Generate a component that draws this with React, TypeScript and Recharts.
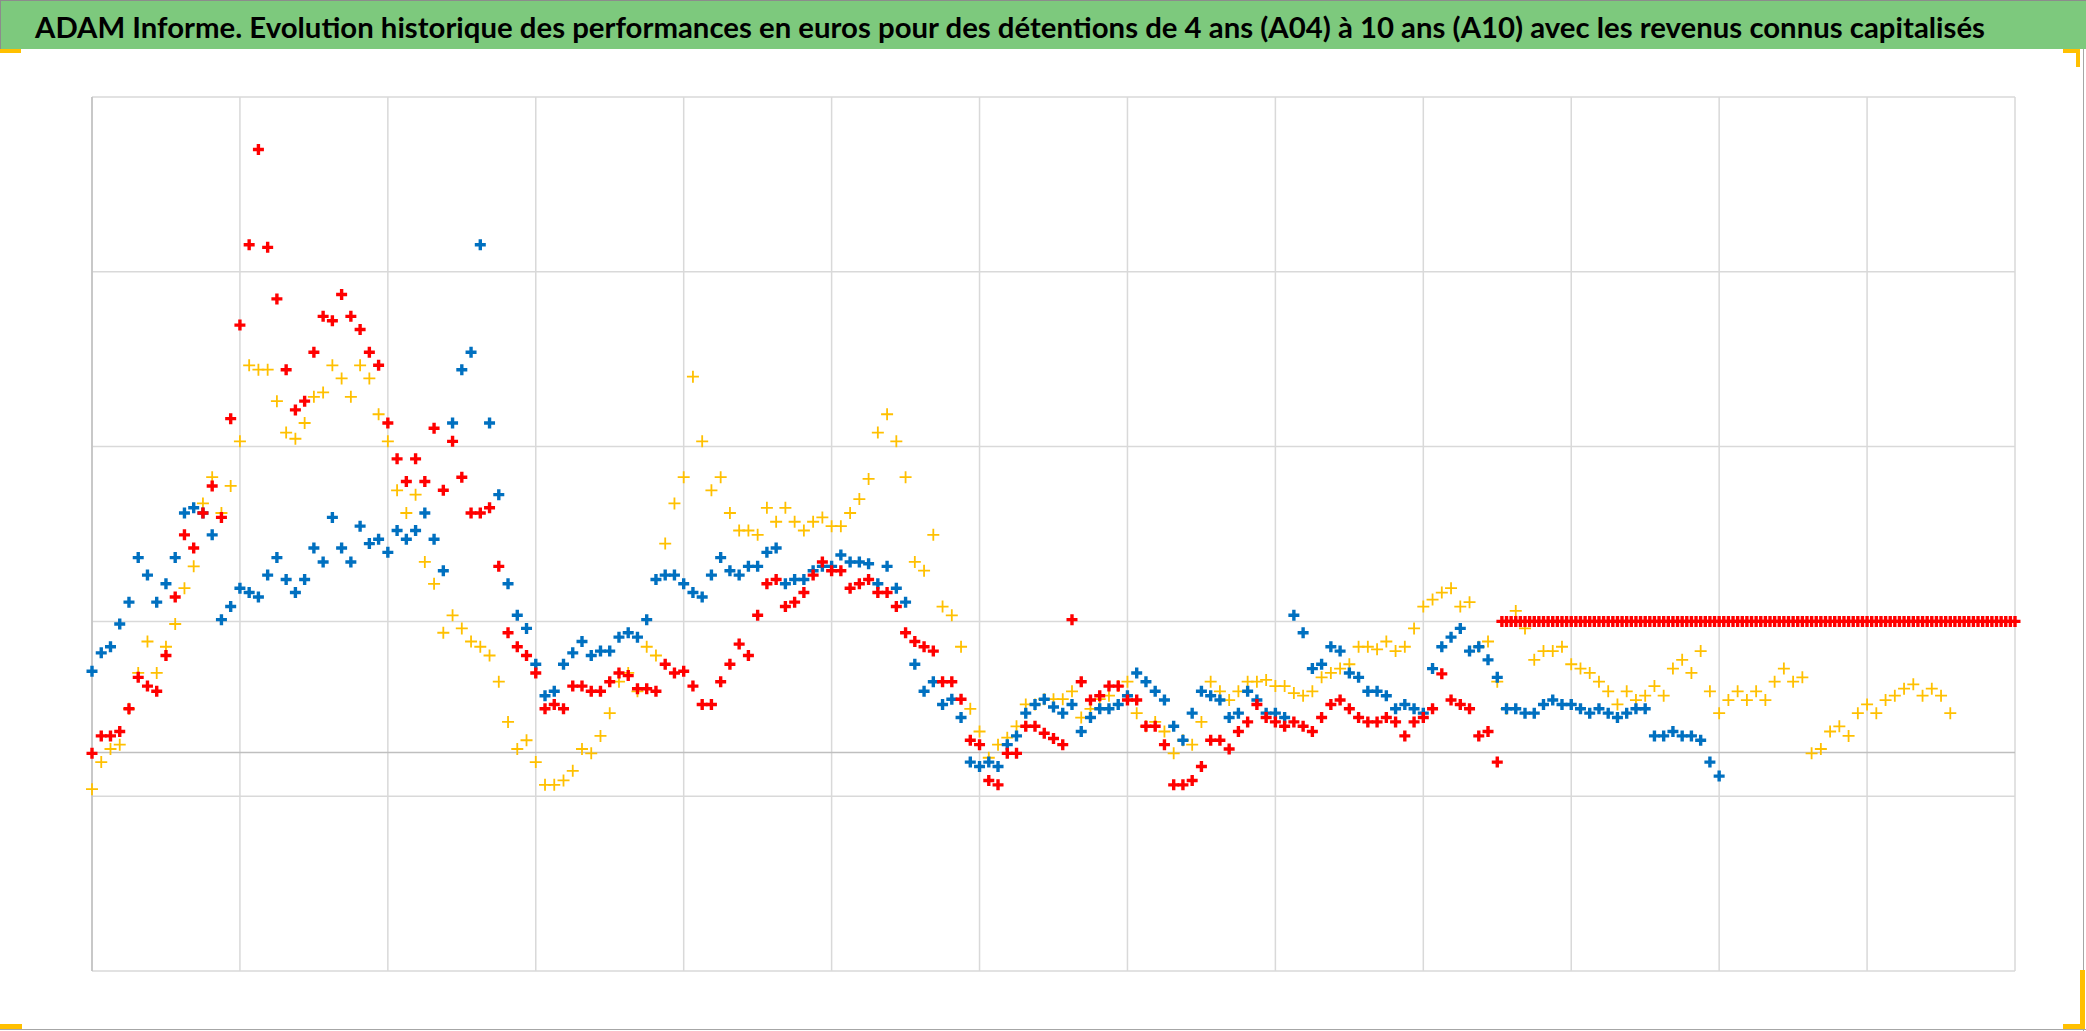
import { ScatterChart, Scatter, XAxis, YAxis, CartesianGrid, ReferenceLine } from 'recharts';

const TITLE =
  'ADAM Informe. Evolution historique des performances en euros pour des détentions de 4 ans (A04) à 10 ans (A10) avec les revenus connus capitalisés';

const xTicks = [0, 16, 32, 48, 64, 80, 96, 112, 128, 144, 160, 176, 192, 208];
const yTicks = [-25, -5, 15, 35, 55, 75];

// one value per step on the x axis
const serieBleue = [
  9.3, 11.4, 12.1, 14.7, 17.2, 22.3, 20.3, 17.2, 19.3, 22.3,
  27.4, 28.0, 27.4, 24.9, 15.2, 16.7, 18.8, 18.3, 17.8, 20.3,
  22.3, 19.8, 18.3, 19.8, 23.4, 21.8, 26.9, 23.4, 21.8, 25.9,
  23.9, 24.4, 22.9, 25.4, 24.4, 25.4, 27.4, 24.4, 20.8, 37.7,
  43.8, 45.8, 58.1, 37.7, 29.5, 19.3, 15.7, 14.2, 10.1, 6.5,
  7.0, 10.1, 11.4, 12.7, 11.1, 11.6, 11.6, 13.2, 13.7, 13.2,
  15.2, 19.8, 20.3, 20.3, 19.3, 18.3, 17.8, 20.3, 22.3, 20.8,
  20.3, 21.3, 21.3, 22.9, 23.4, 19.3, 19.8, 19.8, 20.8, 21.3,
  21.3, 22.6, 21.8, 21.8, 21.6, 19.3, 21.3, 18.8, 17.2, 10.1,
  7.0, 8.1, 5.5, 6.1, 4.0, -1.1, -1.6, -1.1, -1.6, 0.9,
  1.9, 4.5, 5.5, 6.1, 5.2, 4.5, 5.5, 2.4, 4.0, 5.0,
  5.0, 5.5, 6.5, 9.1, 8.1, 7.0, 6.0, 3.0, 1.4, 4.5,
  7.0, 6.5, 6.0, 4.0, 4.5, 7.0, 6.0, 4.5, 4.5, 4.0,
  15.7, 13.7, 9.6, 10.1, 12.1, 11.6, 9.1, 8.6, 7.0, 7.0,
  6.5, 5.0, 5.5, 5.0, 4.5, 9.6, 12.1, 13.2, 14.2, 11.6,
  12.1, 10.6, 8.6, 5.0, 5.0, 4.5, 4.5, 5.5, 6.0, 5.5,
  5.5, 5.0, 4.5, 5.0, 4.5, 4.0, 4.5, 5.0, 5.0, 1.9,
  1.9, 2.4, 1.9, 1.9, 1.4, -1.1, -2.7,
];

const serieRouge = [
  -0.1, 1.9, 1.9, 2.4, 5.0, 8.6, 7.6, 7.0, 11.1, 17.8,
  24.9, 23.4, 27.4, 30.5, 26.9, 38.2, 48.9, 58.1, 69.0, 57.8,
  51.9, 43.8, 39.2, 40.2, 45.8, 49.9, 49.4, 52.4, 49.9, 48.4,
  45.8, 44.3, 37.7, 33.6, 31.0, 33.6, 31.0, 37.1, 30.0, 35.6,
  31.5, 27.4, 27.4, 28.0, 21.3, 13.7, 12.1, 11.1, 9.1, 5.0,
  5.5, 5.0, 7.6, 7.6, 7.0, 7.0, 8.1, 9.1, 8.8, 7.3,
  7.3, 7.0, 10.1, 9.1, 9.3, 7.6, 5.5, 5.5, 8.1, 10.1,
  12.4, 11.1, 15.7, 19.3, 19.8, 16.7, 17.2, 18.3, 20.3, 21.8,
  20.8, 20.8, 18.8, 19.3, 19.8, 18.3, 18.3, 16.7, 13.7, 12.7,
  12.1, 11.6, 8.1, 8.1, 6.1, 1.4, 0.9, -3.2, -3.7, -0.1,
  -0.1, 3.0, 3.0, 2.2, 1.6, 0.9, 15.2, 8.1, 6.0, 6.5,
  7.6, 7.6, 6.0, 6.0, 3.0, 3.0, 0.9, -3.7, -3.7, -3.2,
  -1.6, 1.4, 1.4, 0.4, 2.4, 3.5, 5.5, 4.0, 3.5, 3.0,
  3.5, 3.0, 2.4, 4.0, 5.5, 6.0, 5.0, 4.0, 3.5, 3.5,
  4.0, 3.5, 1.9, 3.5, 4.0, 5.0, 9.0, 6.0, 5.5, 5.0,
  1.9, 2.4, -1.1,
];

// red values after x = 152.5, every half step: flat
const serieRougeFin = [
  15, 15, 15, 15, 15, 15, 15, 15, 15, 15, 15, 15, 15, 15, 15, 15,
  15, 15, 15, 15, 15, 15, 15, 15, 15, 15, 15, 15, 15, 15, 15, 15,
  15, 15, 15, 15, 15, 15, 15, 15, 15, 15, 15, 15, 15, 15, 15, 15,
  15, 15, 15, 15, 15, 15, 15, 15, 15, 15, 15, 15, 15, 15, 15, 15,
  15, 15, 15, 15, 15, 15, 15, 15, 15, 15, 15, 15, 15, 15, 15, 15,
  15, 15, 15, 15, 15, 15, 15, 15, 15, 15, 15, 15, 15, 15, 15, 15,
  15, 15, 15, 15, 15, 15, 15, 15, 15, 15, 15, 15, 15, 15, 15, 15,
];

const serieJaune = [
  -4.2, -1.1, 0.4, 0.9, 5.0, 9.1, 12.7, 9.1, 12.1, 14.7,
  18.8, 21.3, 28.5, 31.5, 27.4, 30.5, 35.6, 44.3, 43.8, 43.8,
  40.2, 36.6, 35.9, 37.7, 40.7, 41.2, 44.3, 42.8, 40.7, 44.3,
  42.8, 38.7, 35.6, 30.0, 27.4, 29.5, 21.8, 19.3, 13.7, 15.7,
  14.2, 12.7, 12.1, 11.1, 8.1, 3.5, 0.4, 1.4, -1.1, -3.7,
  -3.7, -3.2, -2.1, 0.4, -0.1, 1.9, 4.5, 8.1, 9.1, 7.0,
  12.1, 11.1, 23.9, 28.5, 31.5, 43.0, 35.6, 30.0, 31.5, 27.4,
  25.4, 25.4, 24.9, 28.0, 26.4, 28.0, 26.4, 25.4, 26.4, 26.9,
  25.9, 25.9, 27.4, 29.0, 31.3, 36.6, 38.7, 35.6, 31.5, 21.8,
  20.8, 24.9, 16.7, 15.7, 12.1, 5.0, 2.4, -0.6, 0.9, 1.7,
  3.0, 5.5, 5.5, 6.1, 6.1, 6.1, 7.0, 4.0, 5.0, 6.1,
  6.5, 7.6, 8.1, 4.5, 3.0, 3.5, 2.4, -0.1, 1.4, 0.9,
  3.5, 8.1, 7.0, 6.0, 7.0, 8.1, 8.1, 8.3, 7.6, 7.6,
  6.8, 6.5, 7.0, 8.6, 9.1, 9.6, 10.1, 12.1, 12.1, 11.8,
  12.7, 11.6, 12.1, 14.2, 16.7, 17.5, 18.3, 18.8, 16.7, 17.2,
  12.1, 12.7, 8.1, 5.0, 16.2, 14.2, 10.6, 11.6, 11.6, 12.1,
  10.1, 9.6, 9.1, 8.1, 7.0, 5.5, 7.0, 6.0, 6.5, 7.6,
  6.5, 9.6, 10.6, 9.1, 11.6, 7.0, 4.5, 6.0, 7.0, 6.0,
  7.0, 6.0, 8.1, 9.6, 8.1, 8.6, -0.1, 0.4, 2.4, 3.0,
  1.9, 4.5, 5.5, 4.5, 6.0, 6.5, 7.3, 7.8, 6.5, 7.3,
  6.5, 4.5,
];

const toPoints = (values: number[], start = 0, step = 1) =>
  values.map((y, i) => ({ x: start + i * step, y }));

const bleuPts = toPoints(serieBleue);
const rougePts = toPoints(serieRouge);
const rougeFinPts = toPoints(serieRougeFin, 152.5, 0.5);
const jaunePts = toPoints(serieJaune);

function BoldCross(props: any) {
  const { cx, cy, fill } = props;
  if (cx == null || cy == null) return null;
  return (
    <path
      d={`M${cx - 5.5},${cy}H${cx + 5.5}M${cx},${cy - 5.5}V${cy + 5.5}`}
      stroke={fill}
      strokeWidth={3.4}
    />
  );
}

function ThinCross(props: any) {
  const { cx, cy, fill } = props;
  if (cx == null || cy == null) return null;
  return (
    <path
      d={`M${cx - 6},${cy}H${cx + 6}M${cx},${cy - 6}V${cy + 6}`}
      stroke={fill}
      strokeWidth={1.8}
    />
  );
}

const handle = { position: 'absolute' as const, background: '#FFC000' };

export default function App() {
  return (
    <div style={{ position: 'absolute', left: 0, top: 0, width: 2086, height: 1031, background: '#fff' }}>
      <div
        style={{
          position: 'absolute',
          left: 0,
          top: 0,
          width: 2086,
          height: 49,
          background: '#7DC97D',
          borderTop: '1px solid #8c8c8c',
          borderLeft: '1px solid #8c8c8c',
          boxSizing: 'border-box',
        }}
      >
        <svg width={2086} height={49} style={{ position: 'absolute', left: 0, top: 0 }}>
          <text
            x={34}
            y={37}
            fontFamily="Lato, 'Liberation Sans', sans-serif"
            fontWeight={700}
            fontSize={28}
            fill="#000"
            textLength={1950}
            lengthAdjust="spacingAndGlyphs"
          >
            {TITLE}
          </text>
        </svg>
      </div>

      <div style={{ position: 'absolute', left: 0, top: 49 }}>
        <ScatterChart
          width={2086}
          height={982}
          margin={{ top: 48, right: 71, bottom: 60, left: 92 }}
        >
          <CartesianGrid stroke="#D9D9D9" strokeWidth={1.5} />
          <XAxis type="number" dataKey="x" domain={[0, 208]} ticks={xTicks} hide />
          <YAxis type="number" dataKey="y" domain={[-25, 75]} ticks={yTicks} hide />
          <ReferenceLine y={0} stroke="#BFBFBF" strokeWidth={1.5} />
          <ReferenceLine x={0} stroke="#BFBFBF" strokeWidth={1.5} />
          <Scatter data={jaunePts} fill="#FFC000" shape={(p: any) => <ThinCross {...p} />} isAnimationActive={false} />
          <Scatter data={bleuPts} fill="#0070C0" shape={(p: any) => <BoldCross {...p} />} isAnimationActive={false} />
          <Scatter data={rougePts} fill="#FF0000" shape={(p: any) => <BoldCross {...p} />} isAnimationActive={false} />
          <Scatter data={rougeFinPts} fill="#FF0000" shape={(p: any) => <BoldCross {...p} />} isAnimationActive={false} />
        </ScatterChart>
      </div>

      <div style={{ position: 'absolute', left: 2083, top: 49, width: 1, height: 982, background: '#a6a6a6' }} />
      <div style={{ position: 'absolute', left: 0, top: 1029, width: 2086, height: 1, background: '#a6a6a6' }} />

      <div style={{ ...handle, left: 0, top: 49, width: 21, height: 4 }} />
      <div style={{ ...handle, left: 2063, top: 49, width: 17, height: 4 }} />
      <div style={{ ...handle, left: 2076, top: 49, width: 4, height: 18 }} />
      <div style={{ ...handle, left: 0, top: 1024, width: 22, height: 5 }} />
      <div style={{ ...handle, left: 2080, top: 970, width: 5, height: 59 }} />
      <div style={{ ...handle, left: 2063, top: 1024, width: 22, height: 5 }} />
    </div>
  );
}
